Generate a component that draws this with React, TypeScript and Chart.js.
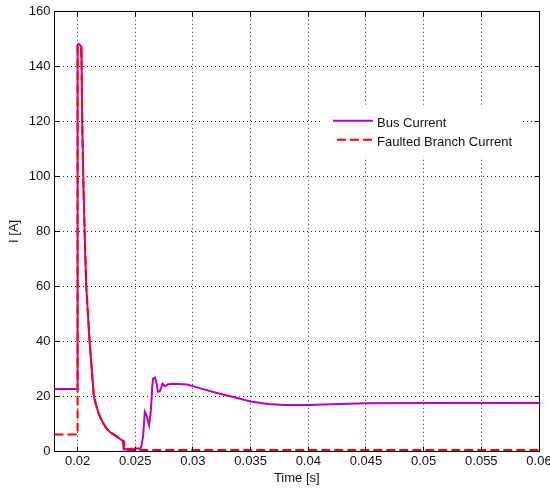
import React, { useEffect, useRef } from 'react';
import { Chart, registerables } from 'chart.js';

Chart.register(...registerables);

// ---- data ----
const seriesNames = ['Bus Current', 'Faulted Branch Current'];
const xTitle = 'Time [s]';
const yTitle = 'I [A]';

const busTime = [
  0.018, 0.02, 0.02, 0.0201, 0.0203, 0.02035, 0.0204, 0.02049, 0.02061, 0.02075,
  0.02104, 0.02141, 0.0216, 0.0218, 0.022, 0.0222, 0.0225, 0.0229, 0.0233, 0.0236,
  0.02394, 0.024, 0.024,
  0.02546, 0.02555, 0.02568, 0.02583, 0.02598, 0.02612, 0.0262, 0.02633, 0.02641, 0.02646,
  0.02655, 0.02672, 0.02685, 0.02696, 0.02713, 0.02737, 0.02757, 0.02785, 0.02828, 0.0295,
  0.0305, 0.032, 0.034, 0.035, 0.0365, 0.038, 0.04, 0.042, 0.045, 0.05, 0.06,
];
const busCurrent = [
  22.6, 22.6, 148, 148.3, 147.5, 140, 120, 100, 80, 60,
  40, 20, 16.8, 14.0, 12.0, 10.3, 8.2, 6.6, 5.6, 4.6,
  3.7, 3.6, 0.6,
  1, 2.2, 5.2, 14.3, 13, 10.6, 9.4, 13.7, 18.5, 23,
  26.4, 26.8, 24.5, 21.6, 21.7, 24.5, 23.6, 24.3, 24.5, 24.2,
  23.0, 21.2, 19.1, 18.0, 17.1, 16.8, 16.8, 17.0, 17.4, 17.5, 17.5,
];

const faultTime = [
  0.018, 0.02, 0.02, 0.0203, 0.02035, 0.0204, 0.02049, 0.02061, 0.02075, 0.02104,
  0.02141, 0.0216, 0.0218, 0.022, 0.0222, 0.0225, 0.0229, 0.0233, 0.0236, 0.02394,
  0.024, 0.024, 0.06,
];
const faultCurrent = [
  6, 6, 147.5, 147, 140, 120, 100, 80, 60, 40,
  20, 16.8, 14.0, 12.0, 10.3, 8.2, 6.6, 5.6, 4.6, 3.7,
  3.6, 0.4, 0.4,
];

const xTickValues = [0.02, 0.025, 0.03, 0.035, 0.04, 0.045, 0.05, 0.055, 0.06];
const xTickLabels = ['0.02', '0.025', '0.03', '0.035', '0.04', '0.045', '0.05', '0.055', '0.06'];
const yTickValues = [0, 20, 40, 60, 80, 100, 120, 140, 160];
const yTickLabels = ['0', '20', '40', '60', '80', '100', '120', '140', '160'];

// ---- styles ----
const FONT = "'Liberation Sans', Arial, sans-serif";
const TEXT = '#111';
const BUS_COLOR = 'rgb(191,0,191)';
const FAULT_COLOR = '#ff0000';
const DASH = [9, 4];

const al = (p: number) => Math.round(p - 0.5) + 0.5;

const matlabPlugin = {
  id: 'matlabBox',
  afterDatasetsDraw(chart: any) {
    const { ctx, chartArea: a, scales } = chart;
    const L = al(a.left), R = al(a.right), T = al(a.top), B = al(a.bottom);
    const tl = 5;
    ctx.save();
    ctx.setLineDash([]);
    ctx.strokeStyle = '#000';
    ctx.lineWidth = 1;
    ctx.beginPath();
    xTickValues.forEach((v) => {
      const px = al(scales.x.getPixelForValue(v));
      ctx.moveTo(px, B); ctx.lineTo(px, B - tl);
      ctx.moveTo(px, T); ctx.lineTo(px, T + tl);
    });
    yTickValues.forEach((v) => {
      const py = al(scales.y.getPixelForValue(v));
      ctx.moveTo(L, py); ctx.lineTo(L + tl, py);
      ctx.moveTo(R, py); ctx.lineTo(R - tl, py);
    });
    ctx.stroke();
    ctx.strokeRect(L, T, R - L, B - T);
    ctx.restore();
  },
  afterDraw(chart: any) {
    const { ctx, chartArea: a } = chart;
    // legend box (white, borderless) inside the axes
    const bx = a.left + 267.5, by = a.top + 93, bw = 198, bh = 52;
    ctx.save();
    ctx.fillStyle = '#fff';
    ctx.fillRect(bx, by, bw, bh);
    ctx.lineWidth = 2;
    ctx.strokeStyle = BUS_COLOR;
    ctx.setLineDash([]);
    ctx.beginPath();
    ctx.moveTo(bx + 11, by + 16); ctx.lineTo(bx + 51, by + 16);
    ctx.stroke();
    ctx.strokeStyle = FAULT_COLOR;
    ctx.setLineDash(DASH);
    ctx.beginPath();
    ctx.moveTo(bx + 15, by + 35); ctx.lineTo(bx + 51, by + 35);
    ctx.stroke();
    ctx.setLineDash([]);
    ctx.fillStyle = TEXT;
    ctx.font = `13px ${FONT}`;
    ctx.textBaseline = 'alphabetic';
    ctx.textAlign = 'left';
    ctx.fillText(seriesNames[0], bx + 55, by + 22);
    ctx.fillText(seriesNames[1], bx + 55, by + 41);
    ctx.restore();
  },
};

export default function App() {
  const ref = useRef<HTMLCanvasElement>(null);

  useEffect(() => {
    const canvas = ref.current;
    if (!canvas) return;
    const chart = new Chart(canvas, {
      type: 'line',
      data: {
        datasets: [
          {
            label: seriesNames[1],
            data: faultTime.map((t, i) => ({ x: t, y: faultCurrent[i] })),
            borderColor: FAULT_COLOR,
            backgroundColor: FAULT_COLOR,
            borderWidth: 2,
            borderDash: DASH,
            pointRadius: 0,
            fill: false,
            tension: 0,
          },
          {
            label: seriesNames[0],
            data: busTime.map((t, i) => ({ x: t, y: busCurrent[i] })),
            borderColor: BUS_COLOR,
            backgroundColor: BUS_COLOR,
            borderWidth: 2,
            pointRadius: 0,
            fill: false,
            tension: 0,
          },
        ],
      },
      options: {
        responsive: false,
        animation: false,
        devicePixelRatio: 1,
        layout: { padding: { top: 10, right: 61, bottom: 0, left: 0 } },
        plugins: {
          legend: { display: false },
          tooltip: { enabled: false },
        },
        scales: {
          x: {
            type: 'linear',
            min: 0.018,
            max: 0.06,
            afterBuildTicks: (s: any) => {
              s.ticks = xTickValues.map((v) => ({ value: v }));
            },
            afterFit: (s: any) => {
              s.height = 39;
            },
            ticks: {
              callback: (_v: any, i: number) => xTickLabels[i],
              padding: 3,
              color: TEXT,
              font: { family: FONT, size: 13 },
              maxRotation: 0,
              autoSkip: false,
            },
            grid: { color: '#333', lineWidth: 1, drawTicks: false },
            border: { display: false, dash: [1, 3] },
            title: {
              display: true,
              text: xTitle,
              color: TEXT,
              font: { family: FONT, size: 13 },
              padding: { top: 1, bottom: 4 },
            },
          },
          y: {
            type: 'linear',
            min: 0,
            max: 160,
            afterBuildTicks: (s: any) => {
              s.ticks = yTickValues.map((v) => ({ value: v }));
            },
            afterFit: (s: any) => {
              s.width = 54.5;
            },
            ticks: {
              callback: (_v: any, i: number) => yTickLabels[i],
              padding: 4,
              color: TEXT,
              font: { family: FONT, size: 13 },
            },
            grid: { color: '#333', lineWidth: 1, drawTicks: false },
            border: { display: false, dash: [1, 3] },
            title: {
              display: true,
              text: yTitle,
              color: TEXT,
              font: { family: FONT, size: 13 },
              padding: { top: 7, bottom: 0 },
            },
          },
        },
      },
      plugins: [matlabPlugin],
    } as any);
    return () => chart.destroy();
  }, []);

  return (
    <div
      style={{
        position: 'absolute',
        left: 0,
        top: 0,
        width: 550,
        height: 490,
        overflow: 'hidden',
        background: '#fff',
      }}
    >
      <canvas ref={ref} width={600} height={490} style={{ display: 'block', width: 600, height: 490 }} />
    </div>
  );
}
